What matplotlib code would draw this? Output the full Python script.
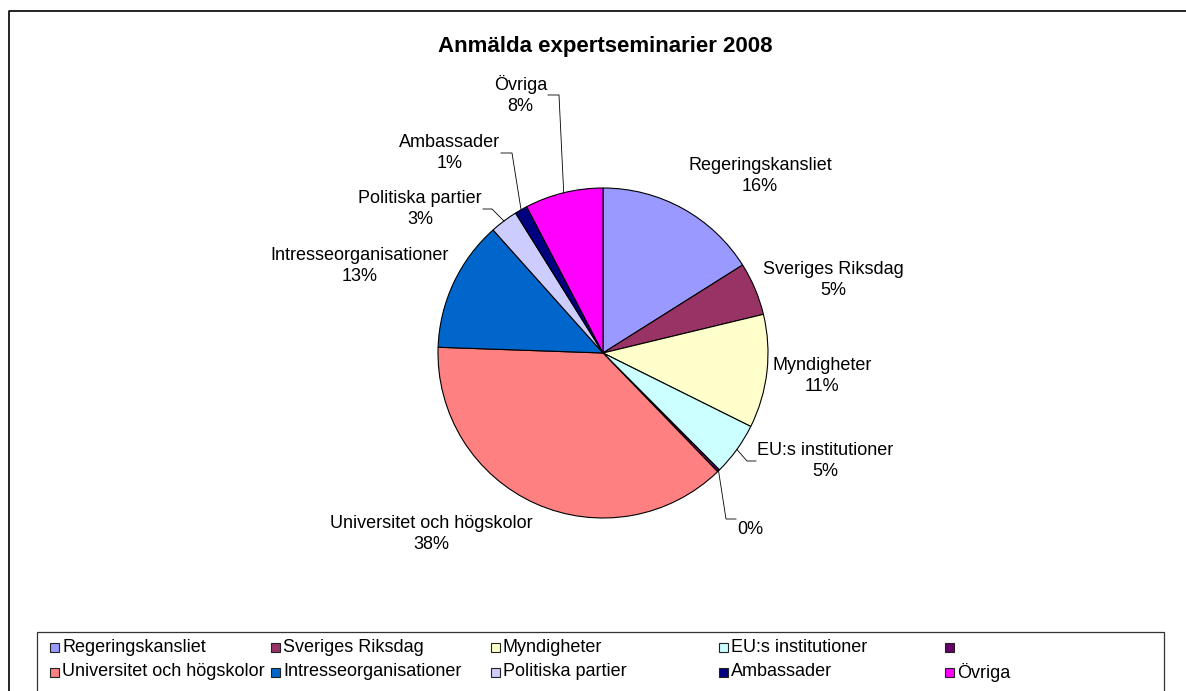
import matplotlib
matplotlib.use("Agg")
import matplotlib.pyplot as plt
import numpy as np
from matplotlib.patches import Rectangle

plt.rcParams['font.family'] = ['Liberation Sans', 'DejaVu Sans']

# Data (antal anmälda per kategori)
kategorier = ["Regeringskansliet", "Sveriges Riksdag", "Myndigheter",
              "EU:s institutioner", "", "Universitet och högskolor",
              "Intresseorganisationer", "Politiska partier", "Ambassader", "Övriga"]
antal = [65, 21, 45, 21, 1, 153, 52, 11, 5, 31]
farger = ["#9999FF", "#993366", "#FFFFCC", "#CCFFFF", "#660066",
          "#FF8080", "#0066CC", "#CCCCFF", "#000080", "#FF00FF"]
titel = "Anmälda expertseminarier 2008"

# Layout i pixlar (y räknas uppifrån)
W, H = 1186, 691
def Y(y):
    return H - y

cx, cy, R = 603, 353, 165
# (x, y, ha, knäpunkt för ledarlinje)
etikett_pos = [
    (760, 176, 'center', None),
    (833, 280, 'center', None),
    (822, 376, 'center', None),
    (757, 461, 'left', 747),
    (737, 519, 'left', 726),
    (431, 534, 'center', None),
    (360, 266, 'center', None),
    (482, 209, 'right', 492),
    (500, 153, 'right', 512),
    (547, 95, 'right', 559),
]
leg_kol_x = [54, 275, 495, 723, 949]
leg_rad_y = [647, 672]

fig = plt.figure(figsize=(W / 100, H / 100), dpi=100)
ax = fig.add_axes([0, 0, 1, 1])

wedges, _ = ax.pie(antal, colors=farger, startangle=90, counterclock=False,
                   center=(cx, Y(cy)), radius=R,
                   wedgeprops=dict(edgecolor='black', linewidth=0.8))

ax.set_xlim(0, W)
ax.set_ylim(0, H)
ax.axis('off')

total = sum(antal)
fs = 13
for w, namn, v, (lx, ly, ha, knä) in zip(wedges, kategorier, antal, etikett_pos):
    txt = f"{namn}\n{round(100 * v / total):.0f}%"
    ax.text(lx, Y(ly), txt, ha=ha, va='center', multialignment='center',
            fontsize=fs, linespacing=1.25)
    if knä is not None:
        mid = np.deg2rad((w.theta1 + w.theta2) / 2)
        px = cx + R * np.cos(mid)
        py = Y(cy) + R * np.sin(mid)
        slut = lx - 1 if ha == 'left' else lx + 1
        ax.plot([px, knä, slut], [py, Y(ly), Y(ly)], color='black', lw=0.6)

ax.text(605, Y(46), titel, ha='center', va='center', fontsize=16, fontweight='bold')

# Ram runt diagrammet
ax.plot([9, 9, W + 5], [-5, Y(10.5), Y(10.5)], color='black', lw=1.2, clip_on=False)

# Förklaring
ax.add_patch(Rectangle((37, Y(700)), 1164 - 37, 700 - 632, facecolor='white',
                       edgecolor='#333333', lw=0.9))
for i, (namn, f) in enumerate(zip(kategorier, farger)):
    x = leg_kol_x[i % 5]
    y = leg_rad_y[i // 5]
    ax.add_patch(Rectangle((x - 4.5, Y(y) - 4.5), 9, 9, facecolor=f,
                           edgecolor='#222222', lw=0.8))
    ax.text(x + 8, Y(y), namn, ha='left', va='center', fontsize=fs)

fig.savefig("out.png", dpi=100)
